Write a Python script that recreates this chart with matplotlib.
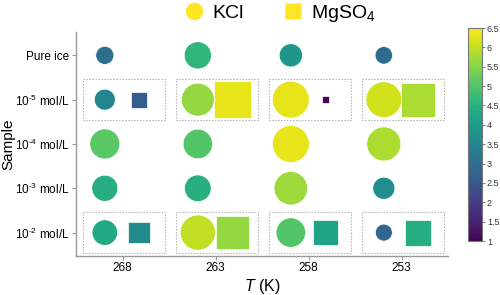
import matplotlib
matplotlib.use("Agg")
import matplotlib.pyplot as plt
import numpy as np
from matplotlib.patches import Rectangle
from matplotlib.lines import Line2D

plt.rcParams['font.family'] = ['Liberation Sans', 'DejaVu Sans']
plt.rcParams['mathtext.fontset'] = 'custom'
plt.rcParams['mathtext.rm'] = 'Liberation Sans'
plt.rcParams['mathtext.it'] = 'Liberation Sans:italic'
plt.rcParams['mathtext.bf'] = 'Liberation Sans:bold'

temps = ['268', '263', '258', '253']
samples = ['Pure ice', r'10$^{\text{-}5}$ mol/L', r'10$^{\text{-}4}$ mol/L',
           r'10$^{\text{-}3}$ mol/L', r'10$^{\text{-}2}$ mol/L']

# KCl (circles): rows = samples, cols = temps
kcl = np.array([
    [3.0, 4.6, 3.9, 2.9],
    [3.5, 5.6, 6.3, 6.1],
    [5.1, 5.0, 6.3, 5.8],
    [4.4, 4.5, 5.7, 3.7],
    [4.3, 6.0, 5.0, 2.8],
])
# MgSO4 (squares): only for 1e-5 and 1e-2 rows
mg_rows = [1, 4]
mgso4 = np.array([
    [2.6, 6.3, 1.05, 5.8],
    [3.6, 5.6, 4.2, 4.4],
])

vmin, vmax = 1.0, 6.5
cmap = plt.get_cmap('viridis')
norm = plt.Normalize(vmin, vmax)

def msize(v):
    d_px = 1.0 + 5.7 * np.asarray(v)
    return (d_px * 0.72) ** 2

fig = plt.figure(figsize=(5, 2.95), dpi=100)
ax = fig.add_axes([0.152, 0.132, 0.744, 0.76])

xs = np.arange(len(temps))
off_c, off_s = -0.19, 0.18
for r in range(len(samples)):
    ax.scatter(xs + off_c, np.full(len(xs), r), s=msize(kcl[r]),
               c=kcl[r], cmap=cmap, norm=norm, marker='o', edgecolors='white', linewidths=0.5, zorder=3)
for i, r in enumerate(mg_rows):
    ax.scatter(xs + off_s, np.full(len(xs), r), s=msize(mgso4[i]),
               c=mgso4[i], cmap=cmap, norm=norm, marker='s', edgecolors='white', linewidths=0.5, zorder=3)
    for c in xs:
        ax.add_patch(Rectangle((c - 0.43, r - 0.47), 0.89, 0.93, fill=False,
                               edgecolor='#aaaaaa', linestyle=(0, (1.2, 1.5)), linewidth=0.8, zorder=2))

ax.set_xlim(-0.5, 3.5)
ax.set_ylim(4.53, -0.53)
ax.set_xticks(xs)
ax.set_xticklabels(temps, fontsize=8.5)
ax.set_yticks(range(len(samples)))
ax.set_yticklabels(samples, fontsize=8.5)
for s in ['top', 'right']:
    ax.spines[s].set_visible(False)
for s in ['left', 'bottom']:
    ax.spines[s].set_color('#999999')
    ax.spines[s].set_linewidth(1.0)
ax.tick_params(axis='both', length=3, width=0.8, color='#999999', pad=2)
ax.tick_params(axis='x', pad=1.5)
ax.set_xlabel('$T$ (K)', fontsize=11.5, labelpad=2)
ax.set_ylabel('Sample', fontsize=11)
ax.yaxis.set_label_coords(-0.163, 0.5)

cax = fig.add_axes([0.936, 0.183, 0.028, 0.722])
sm = plt.cm.ScalarMappable(norm=norm, cmap=cmap)
cb = fig.colorbar(sm, cax=cax, ticks=np.arange(1, 6.6, 0.5))
cb.ax.set_yticklabels([('%g' % t) for t in np.arange(1, 6.6, 0.5)])
cb.ax.tick_params(labelsize=6.5, length=2, width=0.6, color='#666666', pad=1.5, labelcolor='#333333')
cb.outline.set_edgecolor('#777777')
cb.outline.set_linewidth(0.8)

handles = [Line2D([], [], marker='o', linestyle='none', markersize=12.5, color='#fde725', markeredgecolor='none'),
           Line2D([], [], marker='s', linestyle='none', markersize=11, color='#fde725', markeredgecolor='none')]
fig.legend(handles, ['KCl', 'MgSO$_4$'], loc='center', bbox_to_anchor=(0.56, 0.955), ncol=2,
           frameon=False, fontsize=14, handlelength=1.0, handletextpad=0.45, columnspacing=2.0,
           borderaxespad=0, borderpad=0)

fig.savefig('out.png', dpi=100)
